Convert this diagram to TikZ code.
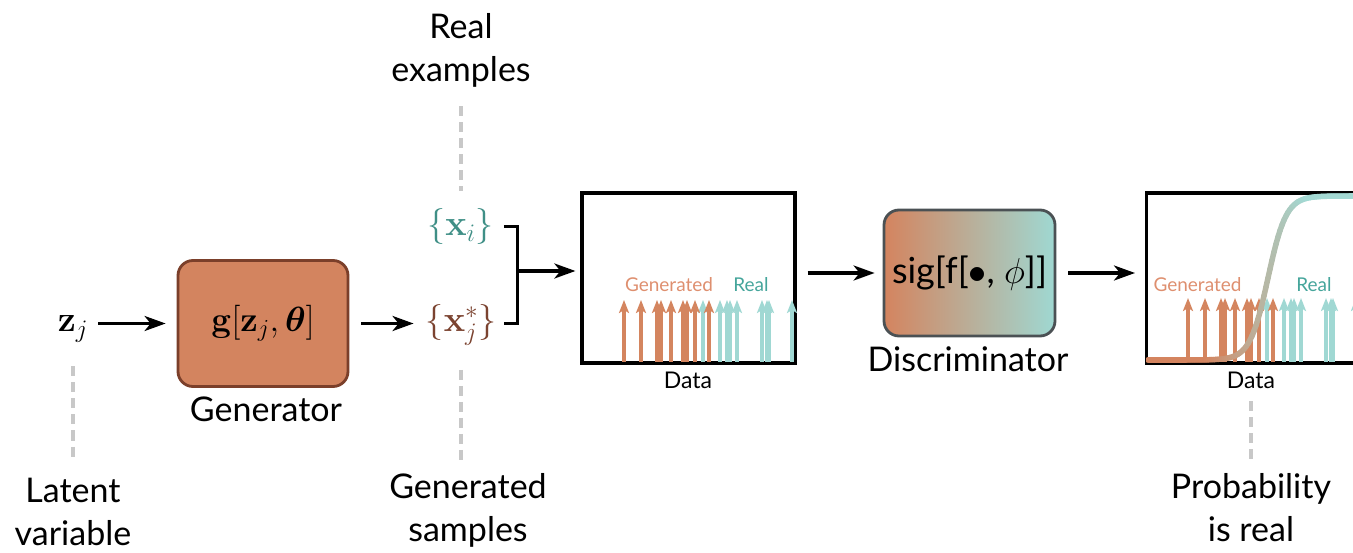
\RequirePackage{fix-cm}
\documentclass[tikz,border=0pt]{standalone}
\usepackage{amsmath,bm}
\usepackage[no-math]{fontspec}
\setmainfont{Lato}
\usetikzlibrary{arrows.meta,calc}
\definecolor{genfill}{HTML}{D3845F}
\definecolor{genborder}{HTML}{7B3F2A}
\definecolor{xscol}{HTML}{7B4330}
\definecolor{xicol}{HTML}{3F8F86}
\definecolor{oarrcol}{HTML}{D4855F}
\definecolor{tarrcol}{HTML}{A0D8D3}
\definecolor{genlab}{HTML}{DE8F6F}
\definecolor{reallab}{HTML}{45A59B}
\definecolor{discborder}{HTML}{4B5154}
\definecolor{discright}{HTML}{9FD8D2}
\definecolor{sigorange}{HTML}{D4845F}
\definecolor{sigteal}{HTML}{A3D9D3}
\definecolor{guidecol}{HTML}{C8C8C8}
\tikzset{
  arr/.style={line width=3.2pt,-{Stealth[length=21pt,width=15pt,inset=6pt]}},
  brk/.style={line width=3pt},
  lbl/.style={font=\fontsize{34}{43}\selectfont, align=center, inner sep=0pt},
  mth/.style={font=\fontsize{36}{42}\selectfont, inner sep=0pt},
  small/.style={font=\fontsize{19}{22}\selectfont, inner sep=0pt},
  datalbl/.style={font=\fontsize{23}{26}\selectfont, inner sep=0pt},
  plotbox/.style={draw=black, line width=3.2pt, inner sep=0pt},
  guide/.style={draw=guidecol, line width=3.2pt, dash pattern=on 10pt off 6pt},
  oarr/.style={draw=oarrcol, line width=4pt,-{Stealth[length=13pt,width=10pt,inset=3pt]}},
  tarr/.style={draw=tarrcol, line width=4pt,-{Stealth[length=13pt,width=10pt,inset=3pt]}},
}
\begin{document}
\begin{tikzpicture}[x=1pt,y=-1pt]
\useasboundingbox (0,0) rectangle (1353,553);
\clip (0,0) rectangle (1353,553);

% ---------- labels ----------
\node[lbl] (realex) at (461,50) {Real\\examples};
\node[lbl] (latent) at (73,512) {Latent\\variable};
\node[lbl] (gensamp) at (468,510) {Generated\\samples};
\node[lbl] (prob) at (1251,508) {Probability\\is real};

% ---------- generator ----------
\node[mth, anchor=base] (z) at (73,332) {$\mathbf{z}_j$};
\node[draw=genborder, fill=genfill, line width=2.8pt, rounded corners=15pt,
      minimum width=170pt, minimum height=126pt, inner sep=0pt,
      font=\fontsize{35}{42}\selectfont] (gen) at (263,323.5)
      {$\mathbf{g}[\mathbf{z}_j,\bm{\theta}]$};
\node[lbl, anchor=base] (genlbl) at (266,421) {Generator};

\node[mth, text=xscol, anchor=base] (xs) at (461,332) {$\{\mathbf{x}_j^*\}$};
\node[mth, text=xicol, anchor=base] (xi) at (460.5,236) {$\{\mathbf{x}_i\}$};

\draw[arr, shorten <=10pt, shorten >=11pt] (gen.west -| z.east) -- (gen.west);
\draw[arr, shorten <=12pt, shorten >=12pt] (gen.east) -- (gen.east -| xs.west);

% ---------- plot 1 ----------
\node[plotbox, minimum width=213pt, minimum height=170pt] (p1) at (688.5,278) {};
\foreach \x in {703,720,727,730,737,762,767,769,792}
  \draw[tarr] (\x,362) -- (\x,300);
\foreach \x in {624,641,657,661,671,683,687,695,709}
  \draw[oarr] (\x,362) -- (\x,300);
\node[small, text=genlab, anchor=base] (g1) at (669,292) {Generated};
\node[small, text=reallab, anchor=base] (r1) at (751,292) {Real};
\node[datalbl, anchor=base] (data1) at (688,389) {Data};

% bracket joining the two sample sets
\coordinate (bj) at (517,271);
\draw[brk] ($(xi.east)+(10,0)$) -| (bj) |- ($(xs.base -| xs.east)+(8,-8)$);
\draw[arr, shorten >=5pt] (bj) -- (bj -| p1.west);

% ---------- discriminator ----------
\node[draw=discborder, left color=sigorange, right color=discright, line width=2.8pt,
      rounded corners=15pt, minimum width=171pt, minimum height=126pt, inner sep=0pt,
      font=\fontsize{36}{42}\selectfont] (disc) at (969.5,273)
      {sig[f[$\bullet$, $\phi$]]};
\node[lbl, anchor=base] (disclbl) at (968,372) {Discriminator};

\draw[arr, shorten <=11pt, shorten >=8pt] (p1.east |- disc.west) -- (disc.west);
\coordinate (p2in) at (1146,273);
\draw[arr, shorten <=12pt, shorten >=11pt] (disc.east) -- (p2in);

% ---------- plot 2 ----------
\node[plotbox, minimum width=260pt, minimum height=170pt] (p2) at (1276.5,278) {};
\foreach \x in {1267,1284,1291,1294,1301,1326,1331,1333,1356}
  \draw[tarr] (\x,362) -- (\x,298);
\foreach \x in {1188,1205,1221,1225,1235,1247,1251,1259,1273}
  \draw[oarr] (\x,362) -- (\x,298);
\node[small, text=genlab, anchor=base] (g2) at (1197.5,292) {Generated};
\node[small, text=reallab, anchor=base] (r2) at (1314,292) {Real};
\node[datalbl, anchor=base] (data2) at (1251,389) {Data};

% sigmoid curve with colour gradient
\begin{scope}
\clip (1146,150) rectangle (1353,400);
\foreach \i in {0,...,103} {
  \pgfmathsetmacro\xa{1148+2*\i}
  \pgfmathsetmacro\xb{\xa+2}
  \pgfmathsetmacro\ua{max(-9,min(9,-0.11*(\xa-1268)))}
  \pgfmathsetmacro\ub{max(-9,min(9,-0.11*(\xb-1268)))}
  \pgfmathsetmacro\ya{360-164/(1+exp(\ua))}
  \pgfmathsetmacro\yb{360-164/(1+exp(\ub))}
  \pgfmathtruncatemacro\t{max(0,min(100,(\xa-1205)))}
  \draw[line width=5.5pt, line cap=round, color=sigteal!\t!sigorange] (\xa,\ya) -- (\xb,\yb);
}
\end{scope}

% ---------- guides ----------
\draw[guide, shorten <=19pt, shorten >=18pt] (realex.south) -- (realex.south |- xi.north);
\draw[guide, shorten <=24pt, shorten >=16pt] (z.south) -- (z.south |- latent.north);
\draw[guide, shorten <=24pt, shorten >=12pt] (xs.south) -- (xs.south |- gensamp.north);
\draw[guide, shorten <=12pt, shorten >=14pt] (data2.south) -- (data2.south |- prob.north);
\end{tikzpicture}
\end{document}
